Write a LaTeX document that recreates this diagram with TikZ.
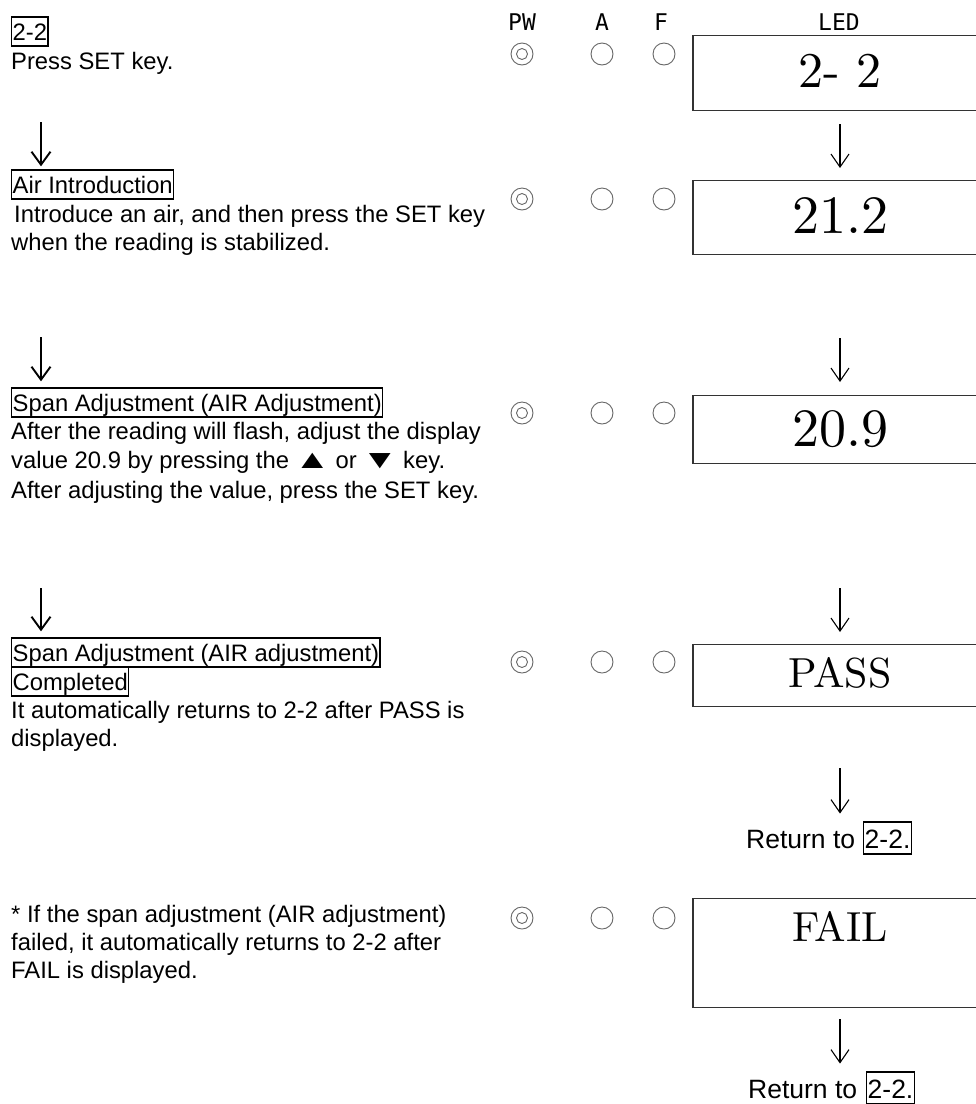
\documentclass[tikz,border=0pt]{standalone}
\usepackage{fontspec}
\setsansfont{Liberation Sans}
\renewcommand{\familydefault}{\sfdefault}
\newfontfamily\hdrfont{DejaVu Sans Mono}
\newfontfamily\ledfont[Extension=.otf]{lmroman10-regular}
\usetikzlibrary{arrows.meta, positioning}
\newcommand{\keyup}{\scalebox{1.55}[1.1]{▲}}
\newcommand{\keydown}{\scalebox{1.55}[1.1]{▼}}
\tikzset{
  txt/.style={inner sep=0pt, anchor=base west, align=left, font=\fontsize{23.8}{28}\selectfont},
  tag/.style={txt, draw=black, line width=1.4pt, inner xsep=1pt, text height=23pt, text depth=6pt},
  rettxt/.style={txt, font=\fontsize{26.5}{28}\selectfont},
  head/.style={inner sep=0pt, anchor=base, font=\hdrfont\fontsize{23}{23}\selectfont},
  ledbox/.style={draw=black!80, line width=1.1pt, rectangle, anchor=north, minimum width=294pt, inner sep=0pt},
  lamp/.style={draw=black!60, circle, line width=0.9pt, inner sep=0pt, minimum size=22pt},
  arrow/.style={-{Straight Barb[length=13pt, width=19pt]}, line width=1.9pt, draw=black},
  thinarrow/.style={-{Straight Barb[length=13pt, width=18pt]}, line width=1.1pt, draw=black}
}

\begin{document}
\begin{tikzpicture}[x=1pt, y=-1pt]
\useasboundingbox (0,0) rectangle (976,1104);
\clip (0,0) rectangle (976,1104);

% header
\node[head] (hpw) at (522,30) {PW};
\node[head] (ha) at (602,30) {A};
\node[head] (hf) at (661,30) {F};
\node[head] (hled) at (839,30) {LED};

% left column (multi-line texts sit on their last baseline)
\node[tag] (start) at (11,40) {2-2};
\node[txt] (press) at (11,69) {Press SET key.};

\node[tag] (air) at (11,193) {Air Introduction};
\node[txt] (airtxt) at (11,250) {\hspace{3pt}Introduce an air, and then press the SET key\\when the reading is stabilized.};

\node[tag] (span) at (11,411) {Span Adjustment (AIR Adjustment)};
\node[txt, font=\fontsize{23.8}{29.5}\selectfont] (spantxt) at (11,498) {After the reading will flash, adjust the display\\value 20.9 by pressing the\hspace{5pt}\keyup\hspace{5pt}or\hspace{5pt}\keydown\hspace{5pt}key.\\After adjusting the value, press the SET key.};

\node[tag] (span2) at (11,661) {Span Adjustment (AIR adjustment)};
\node[tag] (done) at (11,690) {Completed};
\node[txt] (donetxt) at (11,746) {It automatically returns to 2-2 after PASS is\\displayed.};

\node[txt] (failtxt) at (11,978) {* If the span adjustment (AIR adjustment)\\failed, it automatically returns to 2-2 after\\FAIL is displayed.};

% LED column
\node[ledbox, text height=52pt, text depth=23pt, font=\ledfont\fontsize{50}{50}\selectfont] (led1) at (840,35) {2- 2};
\node[ledbox, text height=53pt, text depth=21pt, font=\ledfont\fontsize{54}{54}\selectfont] (led2) at (840,180) {21.2};
\node[ledbox, text height=51pt, text depth=17pt, font=\ledfont\fontsize{54}{54}\selectfont] (led3) at (840,395) {20.9};
\node[ledbox, text height=43pt, text depth=19pt, font=\ledfont\fontsize{42}{42}\selectfont] (led4) at (840,644) {PASS};
\node[ledbox, text height=43pt, text depth=66pt, font=\ledfont\fontsize{42}{42}\selectfont] (led5) at (840,898) {FAIL};

\node[rettxt] (ret1) at (746,848) {Return to};
\node[tag, font=\fontsize{26.5}{28}\selectfont, text height=26pt] (ret1box) at (863,848) {2-2.};
\node[rettxt] (ret2) at (748,1098) {Return to};
\node[tag, font=\fontsize{26.5}{28}\selectfont, text height=26pt] (ret2box) at (866,1098) {2-2.};

% lamps
\node[lamp] (pw1) at (522,54) {};
\node[lamp, minimum size=11pt] (pw1in) at (pw1) {};
\node[lamp] (a1) at (602,54) {};
\node[lamp] (f1) at (664,54) {};

\node[lamp] (pw2) at (522,199) {};
\node[lamp, minimum size=11pt] (pw2in) at (pw2) {};
\node[lamp] (a2) at (602,199) {};
\node[lamp] (f2) at (664,199) {};

\node[lamp] (pw3) at (522,413) {};
\node[lamp, minimum size=11pt] (pw3in) at (pw3) {};
\node[lamp] (a3) at (602,413) {};
\node[lamp] (f3) at (664,413) {};

\node[lamp] (pw4) at (522,662) {};
\node[lamp, minimum size=11pt] (pw4in) at (pw4) {};
\node[lamp] (a4) at (602,662) {};
\node[lamp] (f4) at (664,662) {};

\node[lamp] (pw5) at (522,918) {};
\node[lamp, minimum size=11pt] (pw5in) at (pw5) {};
\node[lamp] (a5) at (602,918) {};
\node[lamp] (f5) at (664,918) {};

% arrows
\coordinate (la1) at (41,122);
\coordinate (la2) at (41,337);
\coordinate (la3) at (41,588);
\draw[arrow, shorten >=3pt] (la1) -- (la1 |- air.north);
\draw[arrow, shorten >=6pt] (la2) -- (la2 |- span.north);
\draw[arrow, shorten >=6pt] (la3) -- (la3 |- span2.north);

\draw[thinarrow, shorten <=13pt, shorten >=12pt] (led1) -- (led2);
\draw[thinarrow, shorten <=83pt, shorten >=13pt] (led2) -- (led3);
\draw[thinarrow, shorten <=124pt, shorten >=12pt] (led3) -- (led4);
\draw[thinarrow, shorten <=61pt, shorten >=16pt] (led4.south) -- (led4.south |- ret1.north);
\draw[thinarrow, shorten <=11pt, shorten >=16pt] (led5.south) -- (led5.south |- ret2.north);

\end{tikzpicture}
\end{document}
